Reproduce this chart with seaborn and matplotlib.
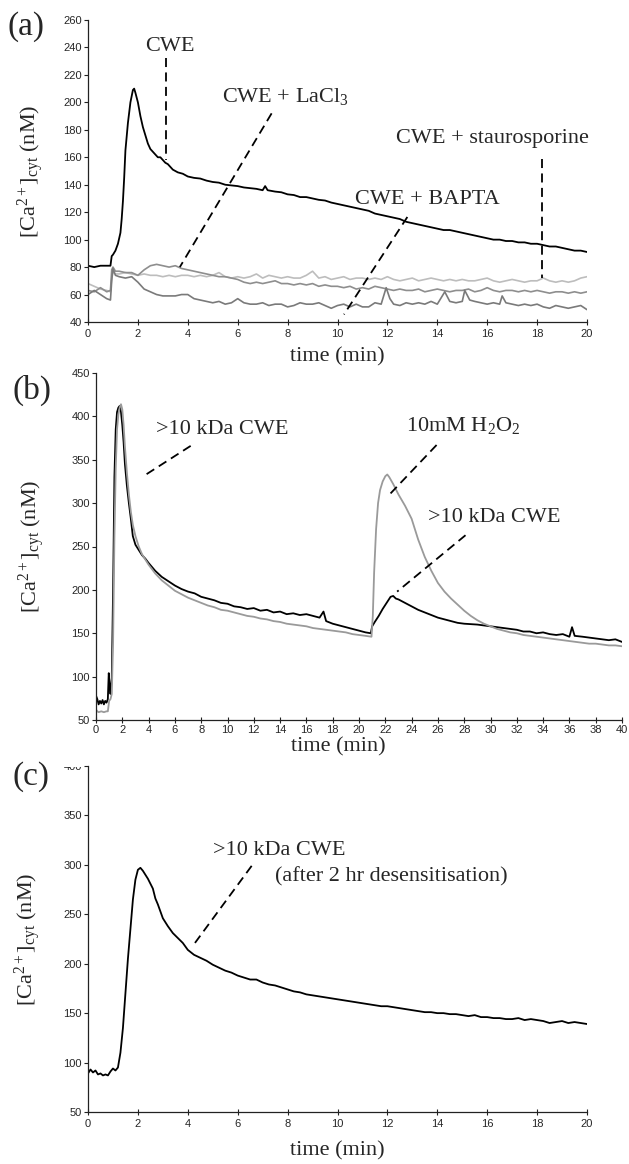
import numpy as np
import pandas as pd
import matplotlib
matplotlib.use("Agg")
import matplotlib.pyplot as plt
import seaborn as sns
from matplotlib.transforms import Bbox, TransformedBbox

# ---------------- data: panel (a) ----------------
t_cwe = [0, 0.25, 0.5, 0.75, 0.9, 0.95, 1.0, 1.1, 1.2, 1.3, 1.35, 1.4, 1.45, 1.5, 1.55, 1.6, 1.7, 1.8, 1.85, 1.9,
         2.0, 2.1, 2.2, 2.3, 2.4, 2.5, 2.6, 2.7, 2.8, 2.9, 3.0, 3.1, 3.2, 3.3, 3.4, 3.5, 3.6, 3.8,
         4.0, 4.25, 4.5, 4.75, 5.0, 5.25, 5.5, 5.75, 6.0, 6.25, 6.5, 6.75, 7.0, 7.1, 7.2, 7.5, 7.75,
         8.0, 8.25, 8.5, 8.75, 9.0, 9.25, 9.5, 9.75, 10.0, 10.25, 10.5, 10.75, 11.0, 11.25, 11.5, 11.75,
         12.0, 12.25, 12.5, 12.75, 13.0, 13.25, 13.5, 13.75, 14.0, 14.25, 14.5, 14.75, 15.0, 15.25, 15.5, 15.75,
         16.0, 16.25, 16.5, 16.75, 17.0, 17.25, 17.5, 17.75, 18.0, 18.25, 18.5, 18.75, 19.0, 19.25, 19.5, 19.75, 20.0]
v_cwe = [81, 80, 81, 81, 81, 88, 89, 92, 97, 105, 115, 128, 145, 165, 175, 185, 200, 209, 210, 207,
         200, 190, 182, 176, 170, 166, 164, 162, 160, 160, 158, 156, 155, 153, 151, 150, 149, 148,
         146, 145, 144.5, 143, 142, 141.5, 140, 139.5, 139, 138, 137.5, 137, 136, 139, 136, 135, 134.5,
         133, 132.5, 131, 131, 130, 129, 128.5, 127, 126, 125, 124, 123, 122, 121, 119, 118,
         117, 116, 115, 113, 112, 111, 110, 109, 108, 107, 107, 106, 105, 104, 103, 102,
         101, 100, 100, 99, 99, 98, 98, 97, 97, 96, 95, 95, 94, 93, 92, 92, 91]

t_grid_a = [0, 0.25, 0.5, 0.75, 0.9, 0.95, 1.0, 1.1, 1.25, 1.5, 1.75, 2.0, 2.25, 2.5, 2.75, 3.0, 3.25, 3.5, 3.75,
            4.0, 4.25, 4.5, 4.75, 5.0, 5.25, 5.5, 5.75, 6.0, 6.25, 6.5, 6.75, 7.0, 7.25, 7.5, 7.75,
            8.0, 8.25, 8.5, 8.75, 9.0, 9.25, 9.5, 9.75, 10.0, 10.25, 10.5, 10.75, 11.0, 11.25, 11.5, 11.75,
            12.0, 12.25, 12.5, 12.75, 13.0, 13.25, 13.5, 13.75, 14.0, 14.25, 14.5, 14.75, 15.0, 15.25, 15.5, 15.75,
            16.0, 16.25, 16.5, 16.75, 17.0, 17.25, 17.5, 17.75, 18.0, 18.25, 18.5, 18.75, 19.0, 19.25, 19.5, 19.75, 20.0]
v_stauro = [68, 66, 64, 63, 62, 72, 76, 75, 75, 76, 75, 74, 75, 74, 74, 73, 74, 73, 74,
            74, 73, 74, 73, 74, 76, 73, 72, 73, 72, 73, 75, 72, 74, 73, 72,
            73, 72, 72, 74, 77, 72, 73, 71, 72, 73, 71, 72, 72, 71, 72, 71,
            73, 71, 70, 71, 72, 70, 71, 72, 71, 70, 71, 70, 71, 70, 70, 71,
            72, 70, 69, 70, 71, 70, 69, 70, 70, 72, 70, 69, 70, 69, 70, 72, 73]
v_lacl3 = [63, 62, 65, 62, 63, 78, 80, 77, 77, 76, 76, 74, 78, 81, 82, 81, 80, 81, 79,
           78, 77, 76, 75, 74, 73, 73, 72, 71, 69, 68, 69, 68, 69, 70, 68,
           68, 67, 68, 67, 68, 66, 67, 66, 66, 65, 66, 64, 65, 64, 66, 65,
           64, 63, 64, 63, 63, 64, 62, 63, 64, 63, 62, 63, 63, 64, 62, 63,
           65, 63, 62, 63, 63, 62, 63, 62, 63, 62, 61, 62, 62, 61, 62, 61, 62]
t_bapta = [0, 0.25, 0.5, 0.75, 0.9, 0.95, 1.0, 1.1, 1.25, 1.5, 1.75, 2.0, 2.25, 2.5, 2.75, 3.0, 3.25, 3.5, 3.75,
           4.0, 4.25, 4.5, 4.75, 5.0, 5.25, 5.5, 5.75, 6.0, 6.25, 6.5, 6.75, 7.0, 7.25, 7.5, 7.75,
           8.0, 8.25, 8.5, 8.75, 9.0, 9.25, 9.5, 9.75, 10.0, 10.25, 10.5, 10.75, 11.0, 11.25, 11.5, 11.75,
           11.95, 12.1, 12.25, 12.5, 12.75, 13.0, 13.25, 13.5, 13.75, 14.0, 14.3, 14.5, 14.75, 15.0, 15.1, 15.3, 15.5, 15.75,
           16.0, 16.25, 16.5, 16.6, 16.75, 17.0, 17.25, 17.5, 17.75, 18.0, 18.25, 18.5, 18.75, 19.0, 19.25, 19.5, 19.75, 20.0]
v_bapta = [60, 63, 60, 57, 56, 70, 79, 74, 73, 72, 73, 69, 64, 62, 60, 59, 59, 59, 60,
           60, 57, 56, 55, 54, 55, 53, 54, 57, 54, 53, 53, 54, 52, 53, 53,
           51, 52, 54, 53, 53, 54, 52, 50, 52, 53, 51, 53, 51, 51, 54, 53,
           65, 57, 53, 52, 54, 53, 54, 53, 55, 53, 62, 55, 54, 55, 63, 56, 55, 54,
           53, 54, 53, 59, 54, 53, 52, 53, 52, 53, 51, 50, 52, 51, 50, 51, 52, 49]

# ---------------- data: panel (b) ----------------
t_b_black = [0, 0.1, 0.2, 0.3, 0.4, 0.5, 0.6, 0.7, 0.8, 0.9, 0.97, 1.05, 1.1, 1.2, 1.3, 1.4, 1.5, 1.6, 1.7, 1.8, 1.9,
             2.0, 2.1, 2.2, 2.35, 2.5, 2.65, 2.8, 3.0, 3.25, 3.5, 3.75, 4.0, 4.5, 5.0, 5.5, 6.0, 6.5, 7.0, 7.5,
             8.0, 8.5, 9.0, 9.5, 10.0, 10.5, 11.0, 11.5, 12.0, 12.5, 13.0, 13.5, 14.0, 14.5, 15.0, 15.5, 16.0, 16.5,
             17.0, 17.3, 17.5, 18.0, 18.5, 19.0, 19.5, 20.0, 20.5, 20.9, 21.0, 21.2, 21.5, 21.8, 22.1, 22.4, 22.6,
             22.8, 23.0, 23.5, 24.0, 24.5, 25.0, 25.5, 26.0, 26.5, 27.0, 27.5, 28.0, 29.0, 30.0, 30.5, 31.0, 31.5,
             32.0, 32.5, 33.0, 33.5, 34.0, 34.5, 35.0, 35.5, 36.0, 36.2, 36.4, 37.0, 37.5, 38.0, 38.5, 39.0, 39.5, 40.0]
v_b_black = [78, 74, 68, 72, 69, 73, 68, 72, 70, 74, 104, 88, 80, 98, 200, 330, 385, 405, 410, 412, 405,
             390, 370, 345, 320, 300, 282, 262, 252, 246, 240, 236, 231, 222, 215, 210, 205, 201, 198, 196,
             192, 190, 188, 185, 184, 181, 180, 178, 179, 176, 177, 174, 175, 172, 173, 171, 172, 170,
             168, 175, 164, 161, 159, 157, 155, 153, 151, 150, 158, 163, 170, 178, 185, 192, 193,
             190, 189, 185, 181, 177, 174, 171, 168, 166, 164, 162, 161, 160, 158, 157, 156, 155,
             154, 152, 152, 150, 151, 149, 148, 149, 146, 157, 147, 146, 145, 144, 143, 142, 143, 140]
t_b_gray = [0, 0.1, 0.2, 0.4, 0.6, 0.8, 0.9, 1.0, 1.1, 1.2, 1.3, 1.4, 1.5, 1.6, 1.7, 1.8, 1.9,
            2.0, 2.1, 2.2, 2.35, 2.5, 2.65, 2.8, 3.0, 3.25, 3.5, 3.75, 4.0, 4.5, 5.0, 5.5, 6.0, 6.5, 7.0, 7.5,
            8.0, 8.5, 9.0, 9.5, 10.0, 10.5, 11.0, 11.5, 12.0, 12.5, 13.0, 13.5, 14.0, 14.5, 15.0, 15.5, 16.0, 16.5,
            17.0, 17.5, 18.0, 18.5, 19.0, 19.5, 20.0, 20.5, 20.95, 21.05, 21.15, 21.3, 21.45, 21.6, 21.8, 22.0, 22.15,
            22.3, 22.6, 23.0, 23.5, 24.0, 24.5, 25.0, 25.5, 26.0, 26.5, 27.0, 27.5, 28.0, 28.5, 29.0, 29.5, 30.0,
            30.5, 31.0, 31.5, 32.0, 32.5, 33.0, 33.5, 34.0, 34.5, 35.0, 35.5, 36.0, 36.5, 37.0, 37.5, 38.0, 38.5,
            39.0, 39.5, 40.0]
v_b_gray = [62, 60, 59, 60, 59, 60, 60, 72, 74, 80, 140, 260, 340, 385, 402, 410, 414,
            408, 390, 365, 335, 310, 290, 275, 262, 250, 241, 235, 229, 219, 211, 205, 199, 195, 191, 188,
            185, 182, 180, 177, 176, 174, 172, 170, 169, 167, 166, 164, 163, 161, 160, 159, 158, 156,
            155, 154, 153, 152, 151, 149, 148, 147, 146, 170, 220, 270, 300, 315, 325, 331, 333,
            330, 322, 310, 297, 282, 258, 238, 222, 208, 198, 190, 183, 176, 170, 165, 161, 158,
            155, 153, 151, 150, 148, 147, 146, 145, 144, 143, 142, 141, 140, 139, 138, 138, 137,
            136, 136, 135]

# ---------------- data: panel (c) ----------------
t_c = [0, 0.1, 0.2, 0.3, 0.4, 0.5, 0.6, 0.7, 0.8, 0.9, 1.0, 1.1, 1.2, 1.3, 1.4, 1.5, 1.6, 1.7, 1.8, 1.9,
       2.0, 2.1, 2.2, 2.3, 2.4, 2.5, 2.6, 2.7, 2.8, 3.0, 3.2, 3.4, 3.6, 3.8,
       4.0, 4.25, 4.5, 4.75, 5.0, 5.25, 5.5, 5.75, 6.0, 6.25, 6.5, 6.75, 7.0, 7.25, 7.5, 7.75,
       8.0, 8.25, 8.5, 8.75, 9.0, 9.25, 9.5, 9.75, 10.0, 10.25, 10.5, 10.75, 11.0, 11.25, 11.5, 11.75,
       12.0, 12.25, 12.5, 12.75, 13.0, 13.25, 13.5, 13.75, 14.0, 14.25, 14.5, 14.75, 15.0, 15.25, 15.5, 15.75,
       16.0, 16.25, 16.5, 16.75, 17.0, 17.25, 17.5, 17.75, 18.0, 18.25, 18.5, 18.75, 19.0, 19.25, 19.5, 19.75, 20.0]
v_c = [89, 93, 90, 92, 88, 89, 87, 88, 87, 91, 94, 92, 95, 110, 135, 170, 205, 235, 265, 285,
       295, 297, 294, 290, 286, 281, 276, 266, 260, 246, 238, 231, 226, 221,
       214, 209, 206, 203, 199, 196, 193, 191, 188, 186, 184, 184, 181, 179, 178, 176,
       174, 172, 171, 169, 168, 167, 166, 165, 164, 163, 162, 161, 160, 159, 158, 157,
       157, 156, 155, 154, 153, 152, 151, 151, 150, 150, 149, 149, 148, 147, 148, 146,
       146, 145, 145, 144, 144, 145, 143, 144, 143, 142, 140, 141, 142, 140, 141, 140, 139]

# ---------------- style ----------------
sns.set_theme(style="white")
plt.rcParams["font.family"] = ["Liberation Sans", "DejaVu Sans"]
plt.rcParams["mathtext.fontset"] = "custom"
plt.rcParams["mathtext.rm"] = "Liberation Serif"
plt.rcParams["mathtext.it"] = "Liberation Serif:italic"
plt.rcParams["mathtext.bf"] = "Liberation Serif:bold"

SERIF = ["Liberation Serif", "DejaVu Serif"]
ANN = 16
YLABEL = r"[Ca$^{\rm 2+}$]$_{\rm cyt}$ (nM)"

fig = plt.figure(figsize=(6.29, 11.64), dpi=100)
W, H = 629.0, 1164.0


def make_ax(left, right, top, bottom):
    return fig.add_axes([left / W, 1 - bottom / H, (right - left) / W, (bottom - top) / H])


def style_ax(ax, xpad=3):
    for s in ["top", "right"]:
        ax.spines[s].set_visible(False)
    for s in ["left", "bottom"]:
        ax.spines[s].set_color("#222222")
        ax.spines[s].set_linewidth(0.9)
    ax.tick_params(axis="y", direction="out", length=3, width=0.8, labelsize=8, pad=1.5,
                   color="#222222", left=True)
    ax.tick_params(axis="x", direction="inout", length=4, width=0.8, labelsize=8, pad=xpad,
                   color="#222222", bottom=True)
    ax.grid(False)


def dash(ax, x0, y0, x1, y1):
    ax.plot([x0, x1], [y0, y1], color="black", lw=1.3, linestyle=(0, (5, 3)))


LINE = dict(estimator=None, sort=False, legend=False)

# ---------------- panel (a) ----------------
axa = make_ax(88, 587, 20, 322)
sns.lineplot(x=t_grid_a, y=v_stauro, ax=axa, color="#bdbdbd", lw=1.2, **LINE)
sns.lineplot(x=t_grid_a, y=v_lacl3, ax=axa, color="#8e8e8e", lw=1.2, **LINE)
sns.lineplot(x=t_bapta, y=v_bapta, ax=axa, color="#7a7a7a", lw=1.2, **LINE)
sns.lineplot(x=t_cwe, y=v_cwe, ax=axa, color="black", lw=1.3, **LINE)
axa.set_xlim(0, 20)
axa.set_ylim(40, 260)
axa.set_xticks(range(0, 21, 2))
axa.set_yticks(range(40, 261, 20))
style_ax(axa)
axa.set_xlabel("time (min)", family=SERIF, fontsize=ANN)
axa.set_ylabel(YLABEL, family=SERIF, fontsize=ANN)
axa.xaxis.set_label_coords(0.5, -0.085)
axa.yaxis.set_label_coords(-0.085, 0.5)
axa.text(3.3, 241, "CWE", family=SERIF, fontsize=ANN, ha="center", va="center")
dash(axa, 3.12, 232, 3.12, 158)
axa.text(7.9, 204, r"CWE + LaCl$_{\rm 3}$", family=SERIF, fontsize=ANN, ha="center", va="center")
dash(axa, 7.36, 192, 3.68, 80)
axa.text(16.2, 174, "CWE + staurosporine", family=SERIF, fontsize=ANN, ha="center", va="center")
dash(axa, 18.2, 159, 18.2, 72)
axa.text(13.6, 129, "CWE + BAPTA", family=SERIF, fontsize=ANN, ha="center", va="center")
dash(axa, 12.8, 116.5, 10.26, 45.5)

# ---------------- panel (b) ----------------
axb = make_ax(96, 622, 373, 720)
sns.lineplot(x=t_b_black, y=v_b_black, ax=axb, color="black", lw=1.3, **LINE)
sns.lineplot(x=t_b_gray, y=v_b_gray, ax=axb, color="#9a9a9a", lw=1.3, **LINE)
axb.set_xlim(0, 40)
axb.set_ylim(50, 450)
axb.set_xticks(range(0, 41, 2))
axb.set_yticks(range(50, 451, 50))
style_ax(axb, xpad=1.5)
axb.set_xlabel("time (min)", family=SERIF, fontsize=ANN)
axb.set_ylabel(YLABEL, family=SERIF, fontsize=ANN)
axb.xaxis.set_label_coords(0.46, -0.05)
axb.yaxis.set_label_coords(-0.093, 0.5)
axb.text(9.6, 385, ">10 kDa CWE", family=SERIF, fontsize=ANN, ha="center", va="center")
dash(axb, 7.2, 366, 3.6, 331)
axb.text(27.9, 389, r"10mM H$_{\rm 2}$O$_{\rm 2}$", family=SERIF, fontsize=ANN, ha="center", va="center")
dash(axb, 25.9, 367, 22.2, 308)
axb.text(30.3, 283, ">10 kDa CWE", family=SERIF, fontsize=ANN, ha="center", va="center")
dash(axb, 28.1, 263, 22.9, 198)

# ---------------- panel (c) ----------------
axc = make_ax(88, 587, 766, 1112)
sns.lineplot(x=t_c, y=v_c, ax=axc, color="black", lw=1.3, **LINE)
axc.set_xlim(0, 20)
axc.set_ylim(50, 400)
axc.set_xticks(range(0, 21, 2))
axc.set_yticks(range(50, 401, 50))
style_ax(axc)
axc.set_xlabel("time (min)", family=SERIF, fontsize=ANN)
axc.set_ylabel(YLABEL, family=SERIF, fontsize=ANN)
axc.xaxis.set_label_coords(0.5, -0.085)
axc.yaxis.set_label_coords(-0.09, 0.5)
axc.text(5.0, 315, ">10 kDa CWE", family=SERIF, fontsize=ANN, ha="left", va="center")
axc.text(7.5, 288, "(after 2 hr desensitisation)", family=SERIF, fontsize=ANN, ha="left", va="center")
dash(axc, 6.56, 299, 4.17, 217)

# top "400" label of (c) is cut off in the reference
fig.canvas.draw()
clip = TransformedBbox(Bbox([[0, 0], [1, 1 - 767 / H]]), fig.transFigure)
for lbl in axc.get_yticklabels():
    if lbl.get_text() == "400":
        lbl.set_clip_box(clip)
        lbl.set_clip_on(True)

# panel letters
fig.text(26 / W, 1 - 27 / H, "(a)", family=SERIF, fontsize=24, ha="center", va="center")
fig.text(32 / W, 1 - 390 / H, "(b)", family=SERIF, fontsize=24, ha="center", va="center")
fig.text(31 / W, 1 - 777 / H, "(c)", family=SERIF, fontsize=24, ha="center", va="center")

fig.savefig("out.png", dpi=100, facecolor="white")
